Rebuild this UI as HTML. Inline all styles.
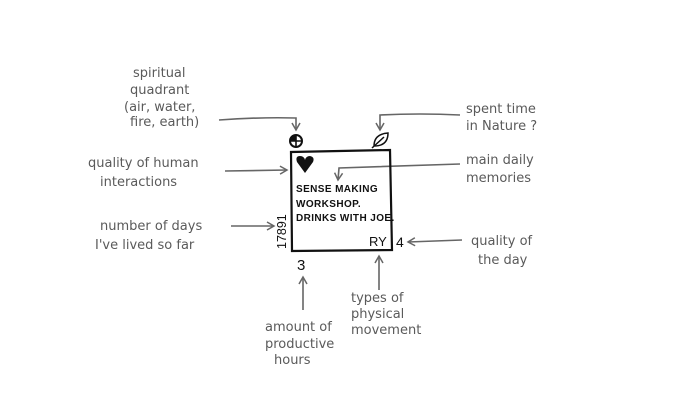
<!DOCTYPE html>
<html><head><meta charset="utf-8"><style>
html,body{margin:0;padding:0;background:#fff;}
svg{display:block;}
.g{font-family:"DejaVu Sans","Liberation Sans",sans-serif;font-size:13px;fill:#5a5a5a;}
.b{font-family:"Liberation Sans",sans-serif;font-weight:bold;fill:#111;}
</style></head><body>
<svg width="700" height="420" viewBox="0 0 700 420" xmlns="http://www.w3.org/2000/svg">
<defs><marker id="a" markerWidth="10" markerHeight="10" refX="8" refY="5" orient="auto" markerUnits="userSpaceOnUse">
<path d="M1,1 L8,5 L1,9" fill="none" stroke="#666" stroke-width="1.5"/></marker></defs>
<g class="g">
<text x="133" y="77">spiritual</text>
<text x="130" y="94">quadrant</text>
<text x="124" y="111">(air, water,</text>
<text x="130" y="126">fire, earth)</text>
<text x="88" y="167">quality of human</text>
<text x="100" y="186">interactions</text>
<text x="100" y="230">number of days</text>
<text x="95" y="249">I've lived so far</text>
<text x="466" y="113">spent time</text>
<text x="466" y="130">in Nature ?</text>
<text x="466" y="164">main daily</text>
<text x="466" y="182">memories</text>
<text x="471" y="245">quality of</text>
<text x="478" y="264">the day</text>
<text x="351" y="302">types of</text>
<text x="351" y="318">physical</text>
<text x="351" y="334">movement</text>
<text x="265" y="331">amount of</text>
<text x="265" y="348">productive</text>
<text x="274" y="364">hours</text>
</g>
<g fill="none" stroke="#666" stroke-width="1.6">
<path d="M219,120 Q260,117 296,118 L296,130" marker-end="url(#a)"/>
<path d="M460,115 Q420,113 380,115 L380,130" marker-end="url(#a)"/>
<path d="M225,171 L287,170" marker-end="url(#a)"/>
<path d="M460,164 Q400,166 339,168 L338,180" marker-end="url(#a)"/>
<path d="M231,226 L274,226" marker-end="url(#a)"/>
<path d="M462,240 L408,242" marker-end="url(#a)"/>
<path d="M303,310 L303,277" marker-end="url(#a)"/>
<path d="M379,290 L379,256" marker-end="url(#a)"/>
</g>
<path d="M291,152 L390,150 L392,250 L292,251 Z" fill="none" stroke="#111" stroke-width="2.2"/>
<circle cx="296" cy="141" r="6" fill="#fff" stroke="#111" stroke-width="2"/>
<path d="M296,135 L296,147 M290,141 L302,141" stroke="#111" stroke-width="1.6"/>
<path d="M296,135 A6,6 0 0,0 290,141 L296,141 Z" fill="#111"/>
<path d="M374,146 Q374,134 388,133 Q388,146 374,146 Z M372,148 L384,137" fill="none" stroke="#111" stroke-width="1.5"/>
<path d="M305,173 L297,162 Q295,156 300,156 Q304,156 305,160 Q306,156 310,156 Q315,157 313,162 Z" fill="#111"/>
<g class="b" font-size="10" letter-spacing="0.4">
<text x="296" y="192">SENSE MAKING</text>
<text x="296" y="207">WORKSHOP.</text>
<text x="296" y="221">DRINKS WITH JOE.</text>
</g>
<text class="b" x="369" y="246" font-size="13" style="font-weight:normal">RY</text>
<text class="b" x="396" y="247" font-size="14" style="font-weight:normal">4</text>
<text class="b" x="297" y="270" font-size="15" style="font-weight:normal">3</text>
<text class="b" transform="translate(286,249) rotate(-90)" font-size="12.5" style="font-weight:normal">17891</text>
</svg>
</body></html>
